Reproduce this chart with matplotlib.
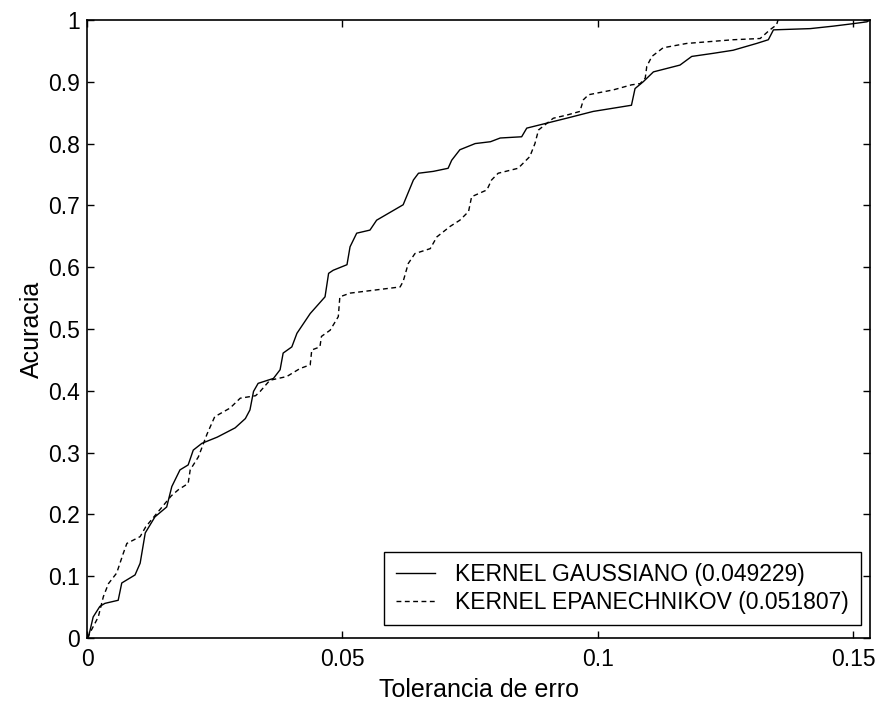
import matplotlib
matplotlib.use("Agg")
from matplotlib import pyplot as plt

plt.rcParams["font.family"] = ["Liberation Sans", "DejaVu Sans"]

# tolerance vs accuracy curves for the two kernels
gauss_x = [0, 0.0003, 0.0012, 0.0025, 0.0035, 0.0061, 0.0068, 0.0094, 0.0104, 0.0114,
           0.0133, 0.0156, 0.0166, 0.0182, 0.0198, 0.0208, 0.0225, 0.0255, 0.0290, 0.0310,
           0.0319, 0.0326, 0.0335, 0.0365, 0.0378, 0.0384, 0.0401, 0.0411, 0.0437, 0.0466,
           0.0473, 0.0482, 0.0509, 0.0515, 0.0528, 0.0554, 0.0567, 0.0619, 0.0639, 0.0649,
           0.0678, 0.0707, 0.0714, 0.0730, 0.0760, 0.0790, 0.0809, 0.0851, 0.0861, 0.0900,
           0.0939, 0.0991, 0.1066, 0.1073, 0.1089, 0.1109, 0.1161, 0.1184, 0.1226, 0.1265,
           0.1311, 0.1334, 0.1344, 0.1416, 0.1461, 0.1500, 0.1527, 0.1533]
gauss_y = [0, 0.002, 0.034, 0.051, 0.056, 0.061, 0.089, 0.102, 0.121, 0.170,
           0.196, 0.212, 0.245, 0.272, 0.280, 0.304, 0.315, 0.325, 0.340, 0.355,
           0.369, 0.399, 0.412, 0.420, 0.434, 0.461, 0.471, 0.493, 0.525, 0.552,
           0.590, 0.595, 0.604, 0.633, 0.655, 0.660, 0.676, 0.701, 0.741, 0.752,
           0.755, 0.760, 0.773, 0.790, 0.800, 0.803, 0.809, 0.811, 0.825, 0.833,
           0.841, 0.852, 0.862, 0.889, 0.900, 0.916, 0.927, 0.941, 0.946, 0.951,
           0.962, 0.968, 0.984, 0.986, 0.990, 0.994, 0.997, 1.000]

epan_x = [0, 0.0003, 0.0022, 0.0032, 0.0042, 0.0058, 0.0071, 0.0078, 0.0104, 0.0115,
          0.0133, 0.0150, 0.0165, 0.0179, 0.0198, 0.0202, 0.0218, 0.0235, 0.0250, 0.0280,
          0.0300, 0.0330, 0.0339, 0.0358, 0.0391, 0.0417, 0.0437, 0.0440, 0.0456, 0.0459,
          0.0476, 0.0492, 0.0495, 0.0515, 0.0613, 0.0619, 0.0629, 0.0642, 0.0672, 0.0685,
          0.0711, 0.0730, 0.0747, 0.0753, 0.0783, 0.0792, 0.0805, 0.0844, 0.0867, 0.0877,
          0.0884, 0.0913, 0.0939, 0.0965, 0.0972, 0.0982, 0.1031, 0.1066, 0.1083, 0.1093,
          0.1096, 0.1106, 0.1128, 0.1174, 0.1265, 0.1318, 0.1337, 0.1350, 0.1353]
epan_y = [0, 0.004, 0.034, 0.067, 0.088, 0.105, 0.137, 0.153, 0.164, 0.180,
          0.198, 0.215, 0.230, 0.240, 0.250, 0.272, 0.293, 0.330, 0.358, 0.372,
          0.388, 0.392, 0.399, 0.417, 0.423, 0.436, 0.442, 0.466, 0.471, 0.488,
          0.498, 0.520, 0.552, 0.558, 0.568, 0.577, 0.606, 0.622, 0.630, 0.649,
          0.666, 0.676, 0.690, 0.714, 0.725, 0.741, 0.752, 0.760, 0.779, 0.800,
          0.822, 0.841, 0.846, 0.852, 0.871, 0.879, 0.887, 0.895, 0.897, 0.906,
          0.925, 0.941, 0.955, 0.962, 0.968, 0.970, 0.984, 0.992, 1.000]

x_ticks = [0, 0.05, 0.1, 0.15]
x_tick_labels = ["0", "0.05", "0.1", "0.15"]
y_ticks = [0, 0.1, 0.2, 0.3, 0.4, 0.5, 0.6, 0.7, 0.8, 0.9, 1]
y_tick_labels = ["0", "0.1", "0.2", "0.3", "0.4", "0.5", "0.6", "0.7", "0.8", "0.9", "1"]

fig = plt.figure(figsize=(8.8, 7.08), dpi=100)
fig.set_facecolor("white")
ax = fig.add_axes([0.0989, 0.0989, 0.8897, 0.8729])

ax.plot(gauss_x, gauss_y, color="black", lw=1.0,
        label="KERNEL GAUSSIANO (0.049229)")
ax.plot(epan_x, epan_y, color="black", lw=1.0, dashes=(3.5, 2.5),
        label="KERNEL EPANECHNIKOV (0.051807)")

ax.set_xlim(0, 0.1533)
ax.set_ylim(0, 1)
ax.set_xticks(x_ticks)
ax.set_xticklabels(x_tick_labels)
ax.set_yticks(y_ticks)
ax.set_yticklabels(y_tick_labels)
ax.tick_params(direction="in", length=5, width=1, top=True, right=True,
               labelsize=16.5, colors="black")
ax.tick_params(axis="x", pad=7)
ax.tick_params(axis="y", pad=5)
for sp in ax.spines.values():
    sp.set_linewidth(1.2)
    sp.set_color("black")

ax.set_xlabel("Tolerancia de erro", fontsize=18, labelpad=5)
ax.set_ylabel("Acuracia", fontsize=18, labelpad=3)

leg = ax.legend(loc="lower right", bbox_to_anchor=(0.988, 0.021), fontsize=16.5,
                fancybox=False, framealpha=1, edgecolor="black", handlelength=1.7,
                handletextpad=0.9, borderpad=0.5, labelspacing=0.2, borderaxespad=0)
leg.get_frame().set_linewidth(1.0)

fig.savefig("out.png", dpi=100, facecolor="white")
